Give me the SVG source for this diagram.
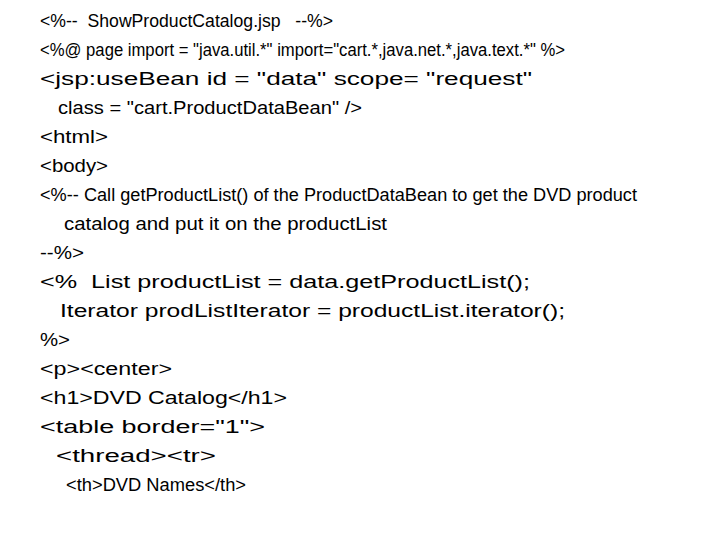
<svg xmlns="http://www.w3.org/2000/svg" width="720" height="540" viewBox="0 0 720 540">
<style>
text{font-family:"Liberation Sans","Open Sans",sans-serif;font-size:17.5px;fill:#000;white-space:pre}
</style>
<rect width="720" height="540" fill="#fff"/>
<g id="code">
<text x="40" y="27" textLength="293" lengthAdjust="spacingAndGlyphs">&lt;%--  ShowProductCatalog.jsp   --%&gt;</text>
<text x="40" y="56" textLength="525" lengthAdjust="spacingAndGlyphs">&lt;%@ page import = "java.util.*" import="cart.*,java.net.*,java.text.*" %&gt;</text>
<text x="40" y="85" textLength="492" lengthAdjust="spacingAndGlyphs">&lt;jsp:useBean id = "data" scope= "request"</text>
<text x="58" y="114" textLength="304" lengthAdjust="spacingAndGlyphs">class = "cart.ProductDataBean" /&gt;</text>
<text x="40" y="143" textLength="68" lengthAdjust="spacingAndGlyphs">&lt;html&gt;</text>
<text x="40" y="172" textLength="68" lengthAdjust="spacingAndGlyphs">&lt;body&gt;</text>
<text x="40" y="201" textLength="597" lengthAdjust="spacingAndGlyphs">&lt;%-- Call getProductList() of the ProductDataBean to get the DVD product</text>
<text x="64" y="230" textLength="323" lengthAdjust="spacingAndGlyphs">catalog and put it on the productList</text>
<text x="40" y="259" textLength="44" lengthAdjust="spacingAndGlyphs">--%&gt;</text>
<text x="40" y="288" textLength="490" lengthAdjust="spacingAndGlyphs">&lt;%  List productList = data.getProductList();</text>
<text x="60" y="317" textLength="505" lengthAdjust="spacingAndGlyphs">Iterator prodListIterator = productList.iterator();</text>
<text x="40" y="346" textLength="30" lengthAdjust="spacingAndGlyphs">%&gt;</text>
<text x="40" y="375" textLength="132" lengthAdjust="spacingAndGlyphs">&lt;p&gt;&lt;center&gt;</text>
<text x="40" y="404" textLength="247" lengthAdjust="spacingAndGlyphs">&lt;h1&gt;DVD Catalog&lt;/h1&gt;</text>
<text x="40" y="433" textLength="225" lengthAdjust="spacingAndGlyphs">&lt;table border="1"&gt;</text>
<text x="56" y="462" textLength="160" lengthAdjust="spacingAndGlyphs">&lt;thread&gt;&lt;tr&gt;</text>
<text x="66" y="491" textLength="180" lengthAdjust="spacingAndGlyphs">&lt;th&gt;DVD Names&lt;/th&gt;</text>
</g>
</svg>
